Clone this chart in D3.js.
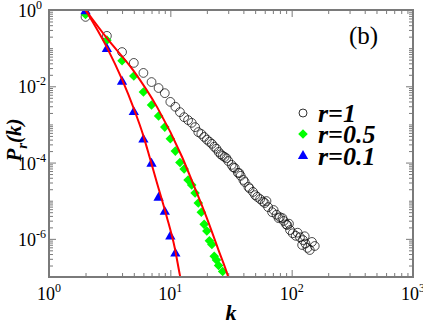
<!DOCTYPE html>
<html>
<head>
<meta charset="utf-8">
<script src="https://cdn.jsdelivr.net/npm/d3@7"></script>
<style>
  body { margin: 0; background: #fff; }
</style>
</head>
<body>
<svg width="423" height="327"></svg>
<script>
// r = 1 (open circles)
const kOne = [2, 3, 4, 5, 6, 7, 8, 9, 10, 11, 12, 13, 14, 15, 16, 17, 18, 19, 20, 21, 22, 23, 24, 25, 26, 27, 28, 29, 30,
  32, 33, 34, 36, 37, 38, 40, 41, 44, 45, 48, 50, 52, 55, 58, 60, 62, 64, 69, 71, 75, 78, 80, 84, 86, 90, 92, 95, 97,
  102, 108, 112, 117, 122, 124, 128, 130, 135, 141, 147, 155];
const pOne = [0.66, 0.21, 0.079, 0.041, 0.0224, 0.0129, 0.009, 0.0066, 0.0039, 0.0029, 0.0021, 0.00155, 0.0013, 0.0011,
  8.5e-4, 6.3e-4, 5.6e-4, 4.7e-4, 4.0e-4, 3.5e-4, 3.1e-4, 2.6e-4, 2.3e-4, 1.9e-4, 1.65e-4, 1.5e-4, 1.4e-4, 1.3e-4, 1.1e-4,
  8.7e-5, 7.5e-5, 7.2e-5, 5.4e-5, 5.3e-5, 4.5e-5, 3.5e-5, 3.1e-5, 2.3e-5, 2.1e-5, 1.7e-5, 1.4e-5, 1.26e-5, 1.1e-5, 9.5e-6,
  8.7e-6, 9.8e-6, 6.8e-6, 5.0e-6, 5.7e-6, 4.3e-6, 3.5e-6, 3.7e-6, 3.5e-6, 2.95e-6, 2.4e-6, 2.3e-6, 2.5e-6, 1.7e-6,
  1.4e-6, 1.2e-6, 1.45e-6, 1.1e-6, 6.9e-7, 9.3e-7, 1.17e-6, 7.5e-7, 5.8e-7, 5.1e-7, 8.3e-7, 6.5e-7];

// r = 0.5 (green diamonds)
const kHalf = [2, 3, 4, 5, 6, 7, 8, 9, 10, 11, 12, 13, 14, 15, 16, 17, 18, 19, 20, 21, 22, 23, 24, 25, 27];
const pHalf = [0.76, 0.162, 0.0468, 0.0186, 0.00708, 0.00324, 0.00166, 8.5e-4, 4.2e-4, 2.0e-4, 1.0e-4, 6.8e-5, 3.5e-5,
  2.6e-5, 1.6e-5, 8.7e-6, 5.0e-6, 2.4e-6, 1.6e-6, 8.9e-7, 7.1e-7, 3.5e-7, 2.8e-7, 2.0e-7, 1.4e-7];

// r = 0.1 (blue triangles)
const kTenth = [2, 3, 4, 5, 6, 7, 8, 9, 10, 11];
const pTenth = [0.93, 0.095, 0.0132, 2.1e-3, 4.0e-4, 9.3e-5, 1.2e-5, 5.1e-6, 1.15e-6, 4.1e-7];

// red fitted curves
const kFitHalf = [2, 3, 5, 7.8, 12.5, 15.4, 20, 25, 30, 30.8];
const pFitHalf = [1, 0.182, 0.025, 2.8e-3, 1.4e-4, 2.8e-5, 3.5e-6, 5.0e-7, 1.0e-7, 7.5e-8];
const kFitTenth = [2, 3, 4, 5, 6, 6.5, 7.7, 9.3, 10.9, 12, 12.3];
const pFitTenth = [1, 0.105, 0.0151, 2.6e-3, 5.0e-4, 2.1e-4, 3.2e-5, 4.0e-6, 5.6e-7, 1.1e-7, 7.5e-8];

const legendLabels = ["r=1", "r=0.5", "r=0.1"];
const xTickExp = [0, 1, 2, 3];
const yTickExp = [0, -2, -4, -6];

const mLeft = 49, mRight = 413, mTop = 10, mBottom = 277;
const axisGray = "#7a7a7a";
const serif = "'Liberation Serif', 'Times New Roman', Times, 'DejaVu Serif', serif";

const svg = d3.select("svg").attr("font-family", serif);

const x = d3.scaleLog().domain([1, 1000]).range([mLeft, mRight]);
const y = d3.scaleLog().domain([1e-7, 1]).range([mBottom, mTop]);

svg.append("defs").append("clipPath").attr("id", "plot")
  .append("rect").attr("x", mLeft).attr("y", mTop)
  .attr("width", mRight - mLeft).attr("height", mBottom - mTop);

// ticks
const xMajor = d3.range(0, 4).map(e => Math.pow(10, e));
const xMinor = [];
d3.range(0, 3).forEach(e => d3.range(2, 10).forEach(m => xMinor.push(m * Math.pow(10, e))));
const yMajor = d3.range(-6, 1, 2).map(e => Math.pow(10, e));
const yMinor = [];
d3.range(-7, 0).forEach(e => d3.range(1, 10).forEach(m => {
  if (!(m === 1 && e % 2 === 0)) yMinor.push(m * Math.pow(10, e));
}));

const axes = [
  [() => d3.axisBottom(x), `translate(0,${mBottom})`, xMajor, xMinor],
  [() => d3.axisTop(x), `translate(0,${mTop})`, xMajor, xMinor],
  [() => d3.axisLeft(y), `translate(${mLeft},0)`, yMajor, yMinor],
  [() => d3.axisRight(y), `translate(${mRight},0)`, yMajor, yMinor]
];
axes.forEach(([mk, tr, maj, min]) => {
  svg.append("g").attr("transform", tr)
    .call(mk().tickValues(min).tickSize(-4).tickFormat(""))
    .call(g => g.select(".domain").remove());
  svg.append("g").attr("transform", tr)
    .call(mk().tickValues(maj).tickSize(-7).tickFormat(""))
    .call(g => g.select(".domain").remove());
});
svg.selectAll(".tick line").attr("stroke", axisGray).attr("stroke-width", 1);

// data
const plot = svg.append("g").attr("clip-path", "url(#plot)");

plot.selectAll("circle.one")
  .data(kOne.map((k, i) => ({ k, p: pOne[i] })))
  .enter().append("circle")
  .attr("cx", d => x(d.k)).attr("cy", d => y(d.p)).attr("r", 4.4)
  .attr("fill", "none").attr("stroke", "#000").attr("stroke-width", 0.7);

const diamond = d3.symbol().type(d3.symbolSquare).size(46);
plot.selectAll("path.half")
  .data(kHalf.map((k, i) => ({ k, p: pHalf[i] })))
  .enter().append("path")
  .attr("d", diamond)
  .attr("transform", d => `translate(${x(d.k)},${y(d.p)}) rotate(45)`)
  .attr("fill", "#00ff00");

const tri = d3.symbol().type(d3.symbolTriangle).size(46);
plot.selectAll("path.tenth")
  .data(kTenth.map((k, i) => ({ k, p: pTenth[i] })))
  .enter().append("path")
  .attr("d", tri)
  .attr("transform", d => `translate(${x(d.k)},${y(d.p)})`)
  .attr("fill", "#0000ff");

const line = d3.line().x(d => x(d[0])).y(d => y(d[1])).curve(d3.curveMonotoneX);
[[kFitHalf, pFitHalf], [kFitTenth, pFitTenth]].forEach(([ks, ps]) => {
  plot.append("path")
    .attr("d", line(ks.map((k, i) => [k, ps[i]])))
    .attr("fill", "none").attr("stroke", "#ff0000").attr("stroke-width", 2);
});

// frame
svg.append("rect")
  .attr("x", mLeft).attr("y", mTop).attr("width", mRight - mLeft).attr("height", mBottom - mTop)
  .attr("fill", "none").attr("stroke", axisGray).attr("stroke-width", 2);

// tick labels
xTickExp.forEach(e => {
  const t = svg.append("text").attr("x", x(Math.pow(10, e))).attr("y", 300)
    .attr("text-anchor", "middle").attr("font-size", 18);
  t.append("tspan").text("10");
  t.append("tspan").attr("dy", -8).attr("font-size", 12).text(e);
});
yTickExp.forEach(e => {
  const t = svg.append("text").attr("x", 18).attr("y", y(Math.pow(10, e)) + 7)
    .attr("font-size", 18);
  t.append("tspan").text("10");
  t.append("tspan").attr("dy", -8).attr("font-size", 12).text(e === 0 ? "0" : "-" + Math.abs(e));
});

// axis titles
svg.append("text").attr("x", 231).attr("y", 320).attr("text-anchor", "middle")
  .attr("font-size", 22).attr("font-weight", "bold").attr("font-style", "italic").text("k");

const yt = svg.append("text").attr("transform", "translate(21,140) rotate(-90)")
  .attr("text-anchor", "middle").attr("font-size", 21)
  .attr("font-weight", "bold").attr("font-style", "italic");
yt.append("tspan").text("P");
yt.append("tspan").attr("dy", 6).attr("font-size", 15).text("r");
yt.append("tspan").attr("dy", -6).text("(k)");

// panel label
svg.append("text").attr("x", 349).attr("y", 44).attr("font-size", 25).text("(b)");

// legend
const lg = svg.append("g");
const ly = [113, 134, 156];
lg.append("circle").attr("cx", 303).attr("cy", ly[0]).attr("r", 4)
  .attr("fill", "none").attr("stroke", "#000").attr("stroke-width", 0.8);
lg.append("path").attr("d", diamond).attr("transform", `translate(303,${ly[1]}) rotate(45)`).attr("fill", "#00ff00");
lg.append("path").attr("d", tri).attr("transform", `translate(303,${ly[2]})`).attr("fill", "#0000ff");
legendLabels.forEach((s, i) => {
  lg.append("text").attr("x", 318).attr("y", ly[i] + 9)
    .attr("font-size", 26).attr("font-weight", "bold").attr("font-style", "italic").text(s);
});
</script>
</body>
</html>
